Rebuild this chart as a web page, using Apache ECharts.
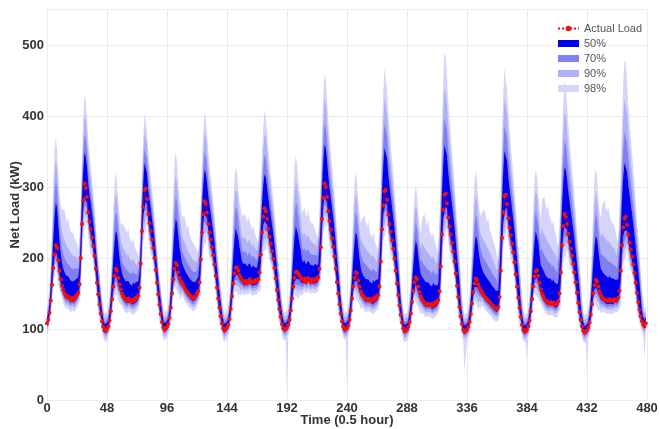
<!DOCTYPE html>
<html>
<head>
<meta charset="utf-8">
<script src="https://cdn.jsdelivr.net/npm/echarts@6/dist/echarts.min.js"></script>
<style>
  html, body { margin: 0; padding: 0; background: #fff; }
  #chart { width: 660px; height: 429px; }
</style>
</head>
<body>
<div id="chart"></div>
<script>
// half-hour steps, 10 days x 48 values per row
const actualLoad = [
  108,113,123,140,162,186,205,218,214,197,182,170,161,155,150,147,145,146,143,141,144,140,142,146,148,151,163,200,248,281,305,299,286,264,251,241,229,217,203,185,165,149,135,122,111,103,98,97,
  100,104,112,125,142,160,175,185,182,172,163,156,150,146,143,141,140,143,139,141,138,142,140,144,143,147,158,192,238,272,296,298,283,262,249,238,226,214,200,183,165,149,134,121,110,102,99,101,
  103,107,116,130,150,170,185,193,190,180,172,167,165,162,158,155,152,150,148,146,145,143,144,146,150,154,166,198,236,262,280,276,264,248,236,226,215,204,191,175,158,143,130,118,108,101,98,100,
  102,106,114,128,146,164,178,186,187,182,176,172,169,167,165,168,164,166,170,167,165,168,166,169,167,170,180,205,236,258,270,266,255,241,230,220,210,199,186,171,155,141,128,117,107,101,99,100,
  102,106,113,126,143,160,172,180,181,178,175,172,170,168,171,166,168,172,169,167,170,166,168,171,169,173,185,215,255,285,305,300,286,266,252,240,228,216,202,185,166,150,135,122,111,103,99,100,
  101,105,113,126,143,160,172,180,178,168,160,153,149,146,144,142,141,143,140,142,139,143,141,145,144,148,160,195,240,274,294,296,282,261,248,237,225,213,199,182,164,148,133,120,109,101,97,98,
  99,103,110,122,138,154,166,173,170,160,152,146,142,139,137,135,134,136,133,135,132,136,134,138,137,141,153,188,233,268,289,291,277,257,244,233,221,209,195,178,161,145,131,118,107,99,96,97,
  99,103,110,121,136,152,164,171,169,163,158,155,152,149,146,144,142,140,138,136,134,132,130,129,128,131,145,182,228,264,287,289,276,256,243,232,220,208,194,177,160,144,130,117,106,99,96,97,
  99,104,112,125,142,160,174,181,183,175,165,156,150,146,142,140,139,137,136,138,135,137,134,136,135,139,150,180,218,245,262,258,248,234,223,213,203,192,180,166,151,137,124,113,104,98,95,96,
  98,102,109,120,135,150,162,169,167,160,153,148,145,143,142,140,141,139,142,140,141,139,142,140,141,144,154,182,218,243,256,258,247,233,222,212,202,191,179,165,151,138,127,118,111,106,104,108
];

const lo50 = [
  105,110,120,135,157,181,200,208,204,187,176,164,157,151,146,143,141,142,139,137,140,136,138,142,144,147,158,188,236,269,287,281,278,256,243,233,224,212,198,180,160,144,130,119,108,100,95,94,
  97,101,109,120,137,155,170,175,172,162,157,150,146,142,139,137,136,139,135,137,134,138,136,140,139,143,153,180,226,260,278,280,275,254,241,230,221,209,195,178,160,144,129,118,107,99,96,98,
  100,104,113,125,145,165,180,183,180,170,166,161,161,158,154,151,148,146,144,142,141,139,140,142,146,150,161,186,224,250,262,258,256,240,228,218,210,199,186,170,153,138,125,115,105,98,95,97,
  99,103,111,123,141,159,173,176,177,172,170,166,165,163,161,164,160,162,166,163,161,164,162,165,163,166,175,193,224,246,252,248,247,233,222,212,205,194,181,166,150,136,123,114,104,98,96,97,
  99,103,110,121,138,155,167,170,171,168,169,166,166,164,167,162,164,168,165,163,166,162,164,167,165,169,180,203,243,273,287,282,278,258,244,232,223,211,197,180,161,145,130,119,108,100,96,97,
  98,102,110,121,138,155,167,170,168,158,154,147,145,142,140,138,137,139,136,138,135,139,137,141,140,144,155,183,228,262,276,278,274,253,240,229,220,208,194,177,159,143,128,117,106,98,94,95,
  96,100,107,117,133,149,161,163,160,150,146,140,138,135,133,131,130,132,129,131,128,132,130,134,133,137,148,176,221,256,271,273,269,249,236,225,216,204,190,173,156,140,126,115,104,96,93,94,
  96,100,107,116,131,147,159,161,159,153,152,149,148,145,142,140,138,136,134,132,130,128,126,125,124,127,140,170,216,252,269,271,268,248,235,224,215,203,189,172,155,139,125,114,103,96,93,94,
  96,101,109,120,137,155,169,171,173,165,159,150,146,142,138,136,135,133,132,134,131,133,130,132,131,135,145,168,206,233,244,240,240,226,215,205,198,187,175,161,146,132,119,110,101,95,92,93,
  95,99,106,115,130,145,157,159,157,150,147,142,141,139,138,136,137,135,138,136,137,135,138,136,137,140,149,170,206,231,238,240,239,225,214,204,197,186,174,160,146,133,122,115,108,103,101,105
];

const lo70 = [
  102,107,117,130,152,176,195,200,196,179,170,158,153,147,142,139,137,138,135,133,136,132,134,138,140,143,153,176,224,257,275,269,270,248,235,225,218,206,192,174,154,138,124,116,105,97,92,91,
  94,98,106,115,132,150,165,167,164,154,151,144,142,138,135,133,132,135,131,133,130,134,132,136,135,139,148,168,214,248,266,268,267,246,233,222,215,203,189,172,154,138,123,115,104,96,93,95,
  97,101,110,120,140,160,175,175,172,162,160,155,157,154,150,147,144,142,140,138,137,135,136,138,142,146,156,174,212,238,250,246,248,232,220,210,204,193,180,164,147,132,119,112,102,95,92,94,
  96,100,108,118,136,154,168,168,169,164,164,160,161,159,157,160,156,158,162,159,157,160,158,161,159,162,170,181,212,234,240,236,239,225,214,204,199,188,175,160,144,130,117,111,101,95,93,94,
  96,100,107,116,133,150,162,162,163,160,163,160,162,160,163,158,160,164,161,159,162,158,160,163,161,165,175,191,231,261,275,270,270,250,236,224,217,205,191,174,155,139,124,116,105,97,93,94,
  95,99,107,116,133,150,162,162,160,150,148,141,141,138,136,134,133,135,132,134,131,135,133,137,136,140,150,171,216,250,264,266,266,245,232,221,214,202,188,171,153,137,122,114,103,95,91,92,
  93,97,104,112,128,144,156,155,152,142,140,134,134,131,129,127,126,128,125,127,124,128,126,130,129,133,143,164,209,244,259,261,261,241,228,217,210,198,184,167,150,134,120,112,101,93,90,91,
  93,97,104,111,126,142,154,153,151,145,146,143,144,141,138,136,134,132,130,128,126,124,122,121,120,123,135,158,204,240,257,259,260,240,227,216,209,197,183,166,149,133,119,111,100,93,90,91,
  93,98,106,115,132,150,164,163,165,157,153,144,142,138,134,132,131,129,128,130,127,129,126,128,127,131,140,156,194,221,232,228,232,218,207,197,192,181,169,155,140,126,113,107,98,92,89,90,
  92,96,103,110,125,140,152,151,149,142,141,136,137,135,134,132,133,131,134,132,133,131,134,132,133,136,144,158,194,219,226,228,231,217,206,196,191,180,168,154,140,127,116,112,105,100,98,102
];

const lo90 = [
  98,103,113,124,146,170,189,192,188,171,164,152,149,143,138,135,133,134,131,129,132,128,130,134,136,139,147,164,212,245,263,257,262,240,227,217,212,200,186,168,148,132,118,112,101,93,88,87,
  90,94,102,109,126,144,159,159,156,146,145,138,138,134,131,129,128,131,127,129,126,130,128,132,131,135,142,156,202,236,254,256,259,238,225,214,209,197,183,166,148,132,117,111,100,92,89,91,
  93,97,106,114,134,154,169,167,164,154,154,149,153,150,146,143,140,138,136,134,133,131,132,134,138,142,150,162,200,226,238,234,240,224,212,202,198,187,174,158,141,126,113,108,98,91,88,90,
  92,96,104,112,130,148,162,160,161,156,158,154,157,155,153,156,152,154,158,155,153,156,154,157,155,158,164,169,200,222,228,224,231,217,206,196,193,182,169,154,138,124,111,107,97,91,89,90,
  92,96,103,110,127,144,156,154,155,152,157,154,158,156,159,154,156,160,157,155,158,154,156,159,157,161,169,179,219,249,263,258,262,242,228,216,211,199,185,168,149,133,118,112,101,93,89,90,
  91,95,103,110,127,144,156,154,152,142,142,135,137,134,132,130,129,131,128,130,127,131,129,133,132,136,144,159,204,238,252,254,258,237,224,213,208,196,182,165,147,131,116,110,99,91,87,88,
  89,93,100,106,122,138,150,147,144,134,134,128,130,127,125,123,122,124,121,123,120,124,122,126,125,129,137,152,197,232,247,249,253,233,220,209,204,192,178,161,144,128,114,108,97,89,86,87,
  89,93,100,105,120,136,148,145,143,137,140,137,140,137,134,132,130,128,126,124,122,120,118,117,116,119,129,146,192,228,245,247,252,232,219,208,203,191,177,160,143,127,113,107,96,89,86,87,
  89,94,102,109,126,144,158,155,157,149,147,138,138,134,130,128,127,125,124,126,123,125,122,124,123,127,134,144,182,209,220,216,224,210,199,189,186,175,163,149,134,120,107,103,94,88,85,86,
  88,92,99,104,119,134,146,143,141,134,135,130,133,131,130,128,129,127,130,128,129,127,130,128,129,132,138,146,182,207,214,216,223,209,198,188,185,174,162,148,134,121,110,108,101,96,94,98
];

const lo98 = [
  92,97,107,116,138,162,181,182,178,161,156,144,143,137,132,129,127,128,125,123,126,122,124,128,130,133,139,150,198,231,247,241,252,230,217,207,204,192,178,160,140,124,110,106,95,87,82,81,
  84,88,96,101,118,136,151,149,146,136,137,130,132,128,125,123,122,125,121,123,120,124,122,126,125,129,134,142,188,222,238,240,249,228,215,204,201,189,175,158,140,124,109,105,94,86,83,85,
  87,91,100,106,126,146,161,157,154,144,146,141,147,144,140,137,134,132,130,128,127,125,126,128,132,136,142,148,186,212,222,218,230,214,202,192,190,179,166,150,133,118,105,102,92,85,82,84,
  86,90,98,104,122,140,154,150,151,146,150,146,151,149,147,150,146,148,152,149,147,150,148,151,149,152,156,155,186,208,212,208,221,207,196,186,185,174,161,146,130,116,103,101,91,85,83,84,
  8,90,97,102,119,136,148,144,145,142,149,146,152,150,153,148,150,154,151,149,152,148,150,153,151,155,161,165,205,235,247,242,252,232,218,206,203,191,177,160,141,125,110,106,95,87,83,84,
  20,89,97,102,119,136,148,144,142,132,134,127,131,128,126,124,123,125,122,124,121,125,123,127,126,130,136,145,190,224,236,238,248,227,214,203,200,188,174,157,139,123,108,104,93,85,81,82,
  83,87,94,98,114,130,142,137,134,124,126,120,124,121,119,117,116,118,115,117,114,118,116,120,119,123,129,138,183,218,231,233,243,223,210,199,196,184,170,153,136,120,106,102,91,83,40,81,
  83,87,94,97,112,128,140,135,133,127,132,129,134,131,128,126,124,122,120,118,116,114,112,111,110,113,121,132,178,214,229,231,242,222,209,198,195,183,169,152,135,119,105,101,90,83,80,81,
  56,88,96,101,118,136,150,145,147,139,139,130,132,128,124,122,121,119,118,120,117,119,116,118,117,121,126,130,168,195,204,200,214,200,189,179,178,167,155,141,126,112,99,97,88,82,79,80,
  40,86,93,96,111,126,138,133,131,124,127,122,127,125,124,122,123,121,124,122,123,121,124,122,123,126,130,132,168,193,198,200,213,199,188,178,177,166,154,140,126,113,102,102,95,90,60,92
];

const hi50 = [
  116,122,135,158,190,226,257,278,272,247,224,206,193,185,180,176,174,174,171,168,170,167,168,170,171,173,188,230,284,321,349,343,328,304,289,277,263,249,233,213,191,173,156,140,125,114,107,105,
  108,113,124,141,167,196,221,238,234,217,200,188,179,173,170,167,166,168,164,165,161,166,163,166,164,167,180,218,269,306,334,336,319,296,282,269,255,242,226,207,187,170,152,139,124,113,108,109,
  111,116,128,149,179,211,239,255,250,232,215,204,193,188,184,180,177,174,172,169,167,166,166,167,170,173,191,228,272,302,324,320,306,288,274,262,249,236,221,203,184,167,151,136,122,112,107,108,
  110,115,126,145,172,202,227,242,242,229,215,206,195,192,190,192,188,189,193,189,186,190,187,189,186,188,208,238,276,302,318,314,301,285,272,260,247,234,219,202,184,167,151,135,121,112,108,108,
  110,115,125,145,173,203,228,245,244,232,220,211,198,194,197,191,193,196,193,190,192,189,190,192,189,192,216,252,300,335,360,355,338,316,299,285,270,256,239,220,198,180,161,140,125,114,108,108,
  109,114,125,143,169,197,220,236,232,215,199,186,180,175,173,170,169,170,167,168,164,169,166,169,167,170,195,237,290,330,355,357,340,317,301,287,272,257,241,221,200,181,162,138,123,112,106,106,
  107,112,122,137,162,188,210,224,219,203,188,177,176,171,169,166,165,166,163,164,160,165,162,163,161,164,193,236,290,332,359,361,344,321,304,290,275,260,243,223,202,183,164,136,121,110,105,105,
  107,112,122,139,164,192,216,231,227,213,200,191,185,180,177,174,172,169,167,164,161,160,157,154,152,154,181,226,280,322,351,353,337,314,298,284,269,254,238,218,198,179,160,135,120,110,105,105,
  107,113,124,142,169,198,223,238,238,223,205,190,189,183,179,175,174,171,170,171,167,170,166,165,163,166,188,225,272,305,328,324,311,294,280,267,254,240,225,208,190,173,156,131,118,109,104,104,
  106,111,121,139,164,192,216,231,227,212,197,185,183,179,178,175,176,172,175,172,172,171,173,169,168,170,199,235,282,314,334,336,322,304,290,276,263,248,232,215,197,181,164,145,125,117,113,116
];

const hi70 = [
  120,127,141,167,204,246,285,308,300,272,246,226,213,205,200,197,193,193,189,186,187,184,184,186,185,185,201,246,302,343,373,367,350,324,307,293,278,263,246,225,202,183,165,148,132,119,111,109,
  112,118,130,149,179,213,246,265,259,239,220,206,197,191,188,186,183,185,180,182,177,182,178,180,176,178,191,232,284,325,354,356,338,314,297,283,268,254,237,217,197,178,160,147,131,118,112,113,
  115,121,134,158,193,232,267,286,279,257,238,225,210,205,201,198,193,190,188,185,182,181,180,180,182,183,204,244,290,324,348,344,328,308,292,278,264,250,234,215,195,177,160,144,129,117,111,112,
  114,120,132,153,185,220,253,271,268,253,236,225,212,208,206,209,203,205,208,204,200,204,200,202,197,198,222,256,295,326,345,341,325,307,292,277,264,250,233,215,196,178,161,143,128,117,112,112,
  114,120,131,155,188,225,258,277,274,259,244,232,215,211,214,209,209,212,209,206,207,204,204,205,201,202,232,272,322,362,389,384,365,340,321,304,289,273,255,235,212,192,172,148,132,119,112,112,
  113,119,131,151,182,216,246,264,258,238,220,205,200,195,193,191,188,189,185,186,181,186,182,184,180,181,213,259,315,360,389,391,371,344,326,309,293,277,259,238,215,195,175,146,130,117,110,110,
  111,117,128,145,174,205,234,250,243,224,206,194,197,192,190,188,185,186,182,183,178,183,179,180,176,177,213,261,319,367,397,399,379,352,333,316,299,282,263,242,220,199,179,144,128,115,109,109,
  111,117,128,148,178,212,244,261,255,238,222,211,206,201,198,196,192,189,186,183,179,178,174,171,166,166,200,249,306,354,386,388,369,343,324,307,291,275,256,235,214,193,174,143,127,115,109,109,
  111,118,130,151,182,217,250,267,265,246,226,209,213,207,203,201,198,194,192,193,187,191,185,185,180,180,207,249,299,338,364,360,344,324,307,291,277,261,245,226,207,188,169,139,125,114,108,108,
  110,116,127,148,179,212,245,263,256,238,220,206,207,203,202,200,198,195,197,194,192,191,192,188,185,184,222,264,314,353,377,379,361,340,322,305,289,273,256,236,217,199,180,155,132,122,117,120
];

const hi90 = [
  125,133,149,178,220,271,315,336,326,295,268,248,237,229,225,220,215,216,211,207,207,203,202,202,200,199,215,262,322,367,400,394,374,346,327,311,294,277,259,237,213,193,174,156,139,125,116,114,
  117,124,138,159,194,236,273,290,282,259,240,225,218,213,211,207,203,206,200,200,195,199,194,194,190,190,203,245,302,346,378,380,359,333,314,298,282,266,248,228,206,187,168,155,138,124,117,118,
  120,127,142,169,210,258,298,315,305,281,261,247,230,226,223,218,212,210,206,203,199,197,196,194,195,195,218,260,310,348,375,371,352,330,312,296,280,264,247,227,206,187,169,152,136,123,116,117,
  119,126,140,164,201,244,281,297,292,274,257,245,231,228,227,228,221,223,226,221,217,220,215,215,210,209,237,273,317,353,375,371,352,331,314,297,282,265,248,228,208,189,171,151,135,123,117,117,
  119,126,139,167,206,252,291,307,302,284,268,256,235,232,236,229,228,232,227,224,224,220,220,219,214,214,249,292,347,392,423,418,395,368,346,327,309,290,271,249,226,205,183,156,139,125,117,117,
  118,125,139,161,197,239,274,290,282,259,240,226,223,219,218,214,210,212,207,207,201,205,200,200,195,195,232,281,343,394,426,428,404,375,354,334,315,296,277,254,231,209,187,154,137,123,115,115,
  116,123,136,154,187,226,260,273,265,243,225,212,223,217,217,212,208,210,205,205,199,203,198,197,192,192,236,287,351,405,440,442,417,387,365,344,324,304,284,261,237,215,193,165,140,121,114,114,
  116,123,136,159,194,237,274,289,281,261,244,233,231,226,224,220,215,213,209,205,200,198,192,187,182,181,220,272,335,389,425,427,404,375,353,334,314,295,275,252,230,208,187,163,139,121,114,114,
  116,124,138,161,197,241,279,293,289,268,247,230,243,236,234,229,224,222,219,219,212,214,207,204,198,198,228,273,329,374,405,401,380,357,337,318,301,282,264,244,223,203,183,160,137,120,113,113,
  115,122,135,160,195,238,276,292,283,262,242,229,235,231,231,227,224,222,223,219,216,214,213,207,203,201,247,292,350,396,425,427,404,379,357,337,318,298,279,258,236,216,196,168,148,130,122,125
];

const hi98 = [
  132,141,159,192,242,301,350,370,354,319,292,274,269,267,268,257,250,258,243,237,236,235,228,226,220,213,229,280,346,396,430,421,398,368,347,329,311,293,273,249,223,201,181,162,145,131,122,121,
  124,132,148,171,213,262,304,320,307,281,261,249,247,247,249,240,235,244,229,227,221,228,217,216,208,203,215,261,322,371,404,403,379,351,332,314,297,279,260,238,215,194,174,161,144,130,123,125,
  127,135,152,184,232,288,334,350,334,306,285,274,258,258,259,250,242,246,234,229,224,225,218,215,212,207,232,278,334,377,405,398,376,352,332,314,297,280,261,239,216,195,176,158,142,129,122,124,
  126,134,150,177,221,272,314,329,319,297,279,270,258,259,262,258,250,258,252,246,240,246,237,235,226,221,253,293,344,385,408,400,378,355,336,317,300,283,263,241,219,198,179,157,141,129,123,124,
  126,134,149,182,229,284,329,344,332,310,294,284,263,264,272,261,258,268,255,250,249,248,242,240,231,226,267,314,377,428,460,451,425,395,371,349,330,310,289,264,238,214,192,162,145,131,123,124,
  125,133,149,174,217,267,307,321,308,281,262,250,255,256,260,250,244,253,238,236,229,236,225,223,215,209,252,306,376,434,468,466,438,406,381,359,339,319,296,271,245,220,197,160,143,129,121,122,
  123,131,146,166,206,252,289,302,289,264,246,234,256,258,262,252,245,255,239,237,230,237,225,223,213,207,258,315,389,451,488,485,455,422,397,373,351,330,306,280,253,228,204,175,150,127,120,121,
  123,131,146,173,216,267,309,323,309,285,268,259,264,265,269,258,251,256,242,236,230,231,219,212,203,195,241,298,370,431,468,466,438,407,382,360,339,318,296,270,244,219,197,172,148,127,120,121,
  123,132,148,174,218,269,312,325,316,291,270,255,282,283,286,274,267,274,258,255,247,253,239,234,223,215,249,300,365,418,450,441,416,390,367,345,326,306,285,262,238,215,193,170,145,126,119,120,
  122,130,145,174,218,270,313,327,313,287,267,256,274,276,282,271,266,272,261,254,250,252,244,235,227,218,271,324,392,448,479,475,446,418,393,369,348,326,304,279,254,231,209,180,158,142,128,132
];

const tickStep = 48;
const timeSlots = [];
for (let i = 0; i <= actualLoad.length; i++) timeSlots.push(String(i));

const bandNames = ['98%', '90%', '70%', '50%'];
const bandColors = ['#d5d5fa', '#b0b0f6', '#8080f2', '#0000ee'];
const bandLows = [lo98, lo90, lo70, lo50];
const bandHighs = [hi98, hi90, hi70, hi50];

const chart = echarts.init(document.getElementById('chart'));

const series = [];
bandNames.forEach((name, b) => {
  const lo = bandLows[b];
  const hi = bandHighs[b];
  series.push({
    name: 'base ' + name,
    type: 'line',
    stack: 'band' + b,
    data: lo,
    symbol: 'none',
    lineStyle: { width: 0, opacity: 0 },
    silent: true,
    z: 2 + b
  });
  series.push({
    name: name,
    type: 'line',
    stack: 'band' + b,
    data: hi.map((v, i) => v - lo[i]),
    symbol: 'none',
    color: bandColors[b],
    itemStyle: { color: bandColors[b] },
    lineStyle: { width: 0, opacity: 0 },
    areaStyle: { color: bandColors[b], opacity: 1 },
    silent: true,
    z: 2 + b
  });
});

series.push({
  name: 'Actual Load',
  type: 'line',
  data: actualLoad,
  symbol: 'circle',
  symbolSize: 4,
  showAllSymbol: true,
  color: '#ee1111',
  itemStyle: { color: '#ee1111' },
  lineStyle: { color: '#ee1111', width: 0.8, type: 'dotted' },
  z: 10
});

const labelStyle = { fontFamily: 'Liberation Sans, Arial, sans-serif', fontSize: 13, fontWeight: 'bold', color: '#333' };
const onTick = (idx) => idx % tickStep === 0;

const option = {
  animation: false,
  backgroundColor: '#fff',
  grid: { left: 47, right: 13, top: 9.5, bottom: 29, outerBoundsMode: 'none', containLabel: false },
  legend: {
    left: 552,
    top: 18,
    orient: 'vertical',
    itemWidth: 21,
    itemHeight: 7,
    itemGap: 4,
    textStyle: { fontFamily: 'Liberation Sans, Arial, sans-serif', fontSize: 11, lineHeight: 11, color: '#555' },
    data: [
      { name: 'Actual Load' },
      { name: '50%', icon: 'rect' },
      { name: '70%', icon: 'rect' },
      { name: '90%', icon: 'rect' },
      { name: '98%', icon: 'rect' }
    ]
  },
  xAxis: {
    type: 'category',
    data: timeSlots,
    boundaryGap: false,
    name: 'Time (0.5 hour)',
    nameLocation: 'middle',
    nameGap: 14,
    nameMoveOverlap: false,
    nameTextStyle: labelStyle,
    axisLine: { show: false },
    axisTick: { show: false },
    axisLabel: Object.assign({ margin: 2, interval: onTick }, labelStyle),
    splitLine: { show: true, interval: onTick, lineStyle: { color: '#ebebeb', width: 1 } }
  },
  yAxis: {
    type: 'value',
    min: 0,
    max: 550,
    interval: 100,
    name: 'Net Load (kW)',
    nameLocation: 'middle',
    nameGap: 25,
    nameMoveOverlap: false,
    nameTextStyle: labelStyle,
    axisLine: { show: false },
    axisTick: { show: false },
    axisLabel: Object.assign({ margin: 3, showMaxLabel: false }, labelStyle),
    splitLine: { show: true, lineStyle: { color: '#ebebeb', width: 1 } }
  },
  series: series
};

chart.setOption(option);
</script>
</body>
</html>
